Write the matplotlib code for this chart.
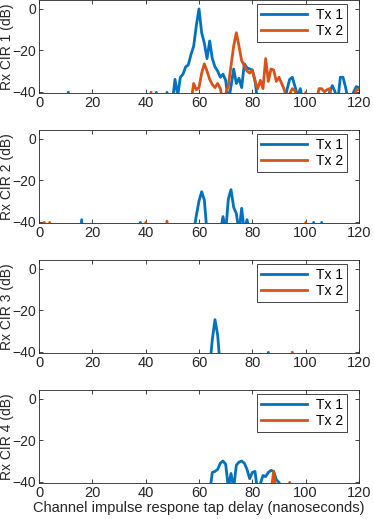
import numpy as np
import matplotlib.pyplot as plt

plt.rcParams['font.family'] = ['Liberation Sans', 'DejaVu Sans']

# ==== DATA (dB per ns tap; taps not listed are below the floor) ====
delay = np.arange(0, 121)          # ns
floor_db = -60.0

rx1_tx1 = {11: -40.2, 44: -40.3, 48: -40.3, 50: -45, 51: -34, 52: -42, 53: -33, 54: -31.5,
           55: -28, 56: -27, 57: -22, 58: -18, 59: -8, 60: 0, 61: -11.5, 62: -16.5, 63: -24,
           64: -15.5, 65: -24, 66: -28, 67: -30, 68: -33, 69: -31.5, 70: -34.5, 71: -45,
           72: -37.5, 73: -29, 74: -36, 75: -33.5, 76: -38, 77: -26.5, 78: -28.5, 79: -29,
           80: -29.5, 81: -34.5, 82: -45, 92: -45, 93: -39, 94: -34, 95: -33, 96: -37.5,
           97: -42, 98: -38.5, 99: -45, 108: -45, 109: -40, 110: -37, 111: -40, 112: -45,
           113: -33, 114: -33, 115: -38, 116: -45, 117: -45, 118: -40, 119: -37.5, 120: -38}
rx1_tx2 = {42: -40.2, 57: -45, 58: -36, 59: -39, 60: -38, 61: -31, 62: -26.5, 63: -30,
           64: -34, 65: -36.5, 66: -38, 67: -36, 68: -38.5, 69: -45, 70: -41, 71: -37,
           72: -27.5, 73: -18, 74: -11.5, 75: -18, 76: -25, 77: -27.5, 78: -30, 79: -31,
           80: -29.5, 81: -35, 82: -38.5, 83: -34.5, 84: -38.5, 85: -24, 86: -35, 87: -29,
           88: -29.5, 89: -35, 90: -33, 91: -36, 92: -39, 93: -45, 94: -41, 95: -38.5,
           96: -39.5, 97: -45, 100: -40.3, 104: -45, 105: -38.5, 106: -38.5, 107: -40,
           108: -39, 109: -38.5, 110: -45, 118: -45, 119: -39, 120: -39}

rx2_tx1 = {16: -39, 38: -40.3, 58: -45, 59: -37, 60: -30, 61: -25.5, 62: -29.5, 63: -45,
           68: -45, 69: -37.5, 70: -45, 71: -29, 72: -24.5, 73: -33, 74: -36, 75: -45,
           76: -33.5, 77: -45, 78: -39, 79: -45, 103: -40.3, 106: -40.3}
rx2_tx2 = {2: -40.3, 4: -40.3, 40: -40.3, 48: -39.7, 100: -40.3}

rx3_tx1 = {64: -48, 65: -34, 66: -24.5, 67: -32, 68: -48, 86: -40.3}
rx3_tx2 = {95: -40.2}

rx4_tx1 = {64: -45, 65: -35.5, 66: -35, 67: -34, 68: -31, 69: -30, 70: -31.5, 71: -43,
           72: -36, 73: -43, 74: -32, 75: -30.5, 76: -30, 77: -31, 78: -34, 79: -38.5,
           80: -35.5, 81: -35, 82: -45, 83: -41, 84: -37, 85: -37.5, 86: -35.5, 87: -34.5,
           88: -35, 89: -39, 90: -40.3, 91: -45}
rx4_tx2 = {87: -45, 88: -35, 89: -45, 94: -40.3}

panels = [(rx1_tx1, rx1_tx2), (rx2_tx1, rx2_tx2), (rx3_tx1, rx3_tx2), (rx4_tx1, rx4_tx2)]


def to_series(taps):
    y = np.full(len(delay), floor_db)
    for k, v in taps.items():
        y[k] = v
    return y


blue = '#0072BD'
orange = '#D95319'
axcol = '#262626'

fig = plt.figure(figsize=(3.74, 5.19), dpi=100)
left, width, height = 39 / 374, 320 / 374, 93 / 519
tops = [0, 130, 260, 390]  # pixel rows of the axes tops

for i, (t1, t2) in enumerate(panels):
    ax = fig.add_axes([left, 1 - (tops[i] + 93) / 519, width, height])
    ax.plot(delay, to_series(t1), color=blue, lw=2, label='Tx 1')
    ax.plot(delay, to_series(t2), color=orange, lw=2, label='Tx 2')
    ax.set_xlim(0, 120)
    ax.set_ylim(-40.6, 4.3)
    ax.set_xticks(range(0, 121, 20))
    ax.set_yticks([-40, -20, 0])
    ax.tick_params(direction='in', top=True, right=True, labelsize=10.5,
                   colors=axcol, length=3, width=0.6, pad=2)
    ax.tick_params(axis='y', labelsize=10)
    for s in ax.spines.values():
        s.set_color(axcol)
        s.set_linewidth(0.6)
    ax.set_ylabel(f'Rx CIR {i + 1} (dB)', fontsize=10, color=axcol)
    ax.yaxis.set_label_coords(-0.079, 0.5)
    leg = ax.legend(loc='upper right', bbox_to_anchor=(0.9625, 0.957), borderaxespad=0,
                    fontsize=10, handlelength=3.3, fancybox=False, framealpha=1,
                    edgecolor=axcol, borderpad=0.3, labelspacing=0.1, handletextpad=0.6)
    leg.get_frame().set_linewidth(0.6)
    if i == 3:
        ax.set_xlabel('Channel impulse respone tap delay (nanoseconds)', fontsize=10.5,
                      color=axcol, labelpad=1)

plt.savefig('out.png', dpi=100)
